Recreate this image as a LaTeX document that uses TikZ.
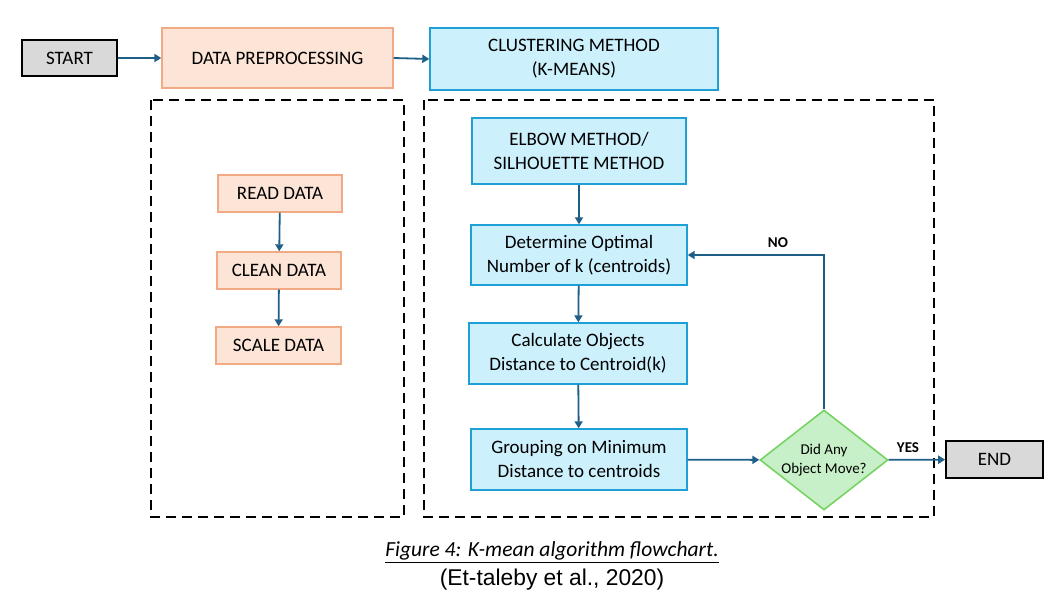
\documentclass[tikz,border=0pt]{standalone}
\usepackage{fontspec}
\setmainfont{Carlito}
\newfontfamily\citefont{Liberation Sans}
\usetikzlibrary{shapes.geometric,arrows.meta}
\definecolor{arr}{RGB}{31,95,135}
\definecolor{peachf}{RGB}{252,228,214}
\definecolor{peachd}{RGB}{242,170,132}
\definecolor{bluef}{RGB}{204,240,252}
\definecolor{blued}{RGB}{30,160,215}
\definecolor{grayf}{RGB}{217,217,217}
\definecolor{greenf}{RGB}{200,240,200}
\definecolor{greend}{RGB}{120,210,100}
\tikzset{
  base/.style={rectangle, inner sep=0pt, align=center, font=\fontsize{19}{24}\selectfont},
  termbox/.style={base, fill=grayf, draw=black, line width=1.6pt},
  peachbox/.style={base, fill=peachf, draw=peachd, line width=1.4pt},
  bluebox/.style={base, fill=bluef, draw=blued, line width=1.4pt},
  decbox/.style={diamond, aspect=1.28, inner sep=0pt, fill=greenf, draw=greend, line width=1.6pt, align=center, font=\fontsize{15}{19.5}\selectfont},
  conn/.style={draw=arr, line width=1.8pt, -{Triangle[length=7pt,width=8pt]}},
  dashbox/.style={draw=black, line width=2.8pt, dash pattern=on 10pt off 6pt},
  lbl/.style={font=\bfseries\fontsize{15}{18}\selectfont}
}
\begin{document}
\begin{tikzpicture}[x=1pt,y=-1pt]
\useasboundingbox (0,0) rectangle (1063,601);
% dashed groups
\draw[dashbox] (151,100) rectangle (404,517);
\draw[dashbox] (424,100) rectangle (934,517);
% top row
\node[termbox, minimum width=95pt, minimum height=36pt] (start) at (69.5,58) {START};
\node[peachbox, minimum width=231pt, minimum height=60pt] (prep) at (277.5,58) {DATA PREPROCESSING};
\node[bluebox, minimum width=288pt, minimum height=62pt] (clus) at (574,59) {CLUSTERING METHOD\\(K-MEANS)};
% left column
\node[peachbox, minimum width=124pt, minimum height=37pt] (read) at (280,193.5) {READ DATA};
\node[peachbox, minimum width=124pt, minimum height=37pt] (clean) at (279,270.5) {CLEAN DATA};
\node[peachbox, minimum width=125pt, minimum height=37pt] (scale) at (278.5,345.5) {SCALE DATA};
% right column
\node[bluebox, minimum width=214pt, minimum height=66pt] (elbow) at (579,151) {ELBOW METHOD/\\SILHOUETTE METHOD};
\node[bluebox, minimum width=216pt, minimum height=60pt] (det) at (579,255) {Determine Optimal\\Number of k (centroids)};
\node[bluebox, minimum width=218pt, minimum height=61pt] (calc) at (578,353.5) {Calculate Objects\\Distance to Centroid(k)};
\node[bluebox, minimum width=216pt, minimum height=61pt] (grp) at (579,459.5) {Grouping on Minimum\\Distance to centroids};
\node[decbox, minimum width=128pt, minimum height=100pt] (dec) at (824,460) {Did Any\\Object Move?};
\node[termbox, minimum width=97pt, minimum height=37pt] (end) at (994.5,459.5) {END};
% connectors
\draw[conn] (start) -- (prep);
\draw[conn] (prep.east) -- (clus.west);
\draw[conn] (read) -- (clean);
\draw[conn] (clean) -- (scale);
\draw[conn] (elbow) -- (det);
\draw[conn] (det) -- (calc);
\draw[conn] (calc) -- (grp);
\draw[conn] (grp) -- (dec);
\draw[conn] (dec.north) |- (det.east);
\node[lbl] (no) at (778,243) {NO};
\draw[conn] (dec) -- (end);
\node[lbl] (yes) at (908,448) {YES};
% caption
\node[font=\itshape\fontsize{21.5}{24}\selectfont] (cap) at (552,552) {\underline{Figure 4: K-mean algorithm flowchart.}};
\node[font=\citefont\fontsize{22.8}{26}\selectfont] (cite) at (552,580) {(Et-taleby et al., 2020)};
\end{tikzpicture}
\end{document}
